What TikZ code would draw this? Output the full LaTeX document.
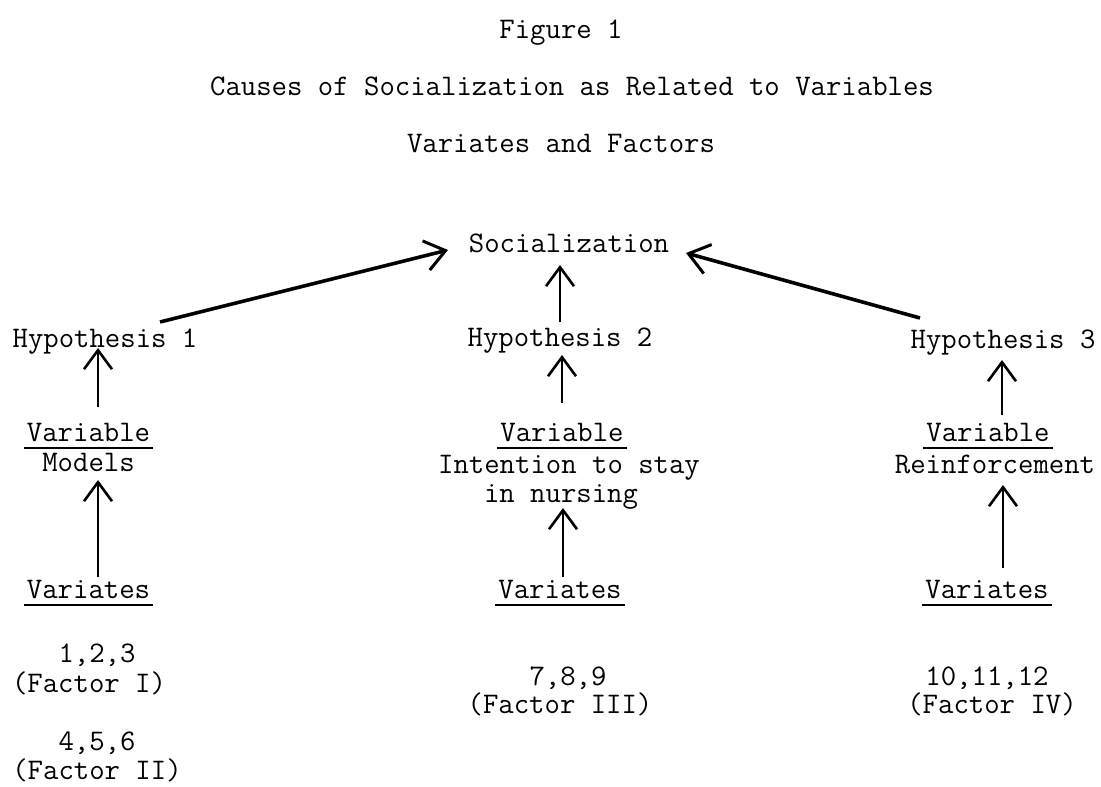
\documentclass[tikz,border=0pt]{standalone}
\usepackage{fontspec}
\usetikzlibrary{arrows.meta,calc}
\newcommand{\twfont}{\ttfamily\addfontfeature{FakeBold=1.6}\fontsize{29.9pt}{34pt}\selectfont}
\tikzset{
  txt/.style={inner sep=0pt, anchor=base, font=\twfont},
  arr/.style={line width=2.6pt, -{Straight Barb[length=19pt,width=28pt,line width=2.6pt]}},
  arrthick/.style={line width=3.6pt, -{Straight Barb[length=20pt,width=30pt,line width=3pt]}},
  uline/.style={line width=1.8pt}
}
\begin{document}
\begin{tikzpicture}[x=1pt,y=-1pt]
\useasboundingbox (0,0) rectangle (1101,787);
% titles
\node[txt] (t1) at (561,38) {Figure 1};
\node[txt] (t2) at (572,95) {Causes of Socialization as Related to Variables};
\node[txt] (t3) at (561,152) {Variates and Factors};
% top
\node[txt] (soc) at (569,252) {Socialization};
\node[txt] (hyp1) at (105,347) {Hypothesis 1};
\node[txt] (hyp2) at (560,346) {Hypothesis 2};
\node[txt] (hyp3) at (1003,348) {Hypothesis 3};
% variables
\node[txt] (var1) at (88.5,441) {Variable};
\node[txt] (var2) at (562,441) {Variable};
\node[txt] (var3) at (988,441) {Variable};
\node[txt] (mod) at (88.5,471) {Models};
\node[txt] (int) at (569,473) {Intention to stay};
\node[txt] (nurs) at (561,502) {in nursing};
\node[txt] (rein) at (995,473) {Reinforcement};
% variates
\node[txt] (vt1) at (88.5,598) {Variates};
\node[txt] (vt2) at (560,598) {Variates};
\node[txt] (vt3) at (987,598) {Variates};
\node[txt] (n1) at (97,662) {1,2,3};
\node[txt] (f1) at (89,692) {(Factor I)};
\node[txt] (n2) at (97,750) {4,5,6};
\node[txt] (f2) at (97,779) {(Factor II)};
\node[txt] (n3) at (568,685) {7,8,9};
\node[txt] (f3) at (560,713) {(Factor III)};
\node[txt] (n4) at (987,685) {10,11,12};
\node[txt] (f4) at (992,713) {(Factor IV)};
% underlines
\foreach \n in {var1,var2,var3,vt1,vt2,vt3}{
  \draw[uline] ($(\n.base west)+(-3,7)$) -- ($(\n.base east)+(3,7)$);
}
% arrows
\draw[arrthick] ($(hyp1.base)+(55,-25)$) -- ($(soc.base)+(-121,-2)$);
\draw[arrthick] ($(hyp3.base)+(-83,-30)$) -- ($(soc.base)+(117,1)$);
\draw[arr] ($(hyp2.base)+(0,-24)$) -- ($(soc.base)+(-9,13)$);
\draw[arr] ($(var1.base)+(9.5,-34)$) -- ($(hyp1.base)+(-7,1)$);
\draw[arr] ($(vt1.base)+(9.5,-21)$) -- ($(mod.base)+(9.5,9)$);
\draw[arr] ($(var2.base)+(0,-38)$) -- ($(hyp2.base)+(2,9)$);
\draw[arr] ($(vt2.base)+(3,-21)$) -- ($(nurs.base)+(2,6)$);
\draw[arr] ($(var3.base)+(14,-26)$) -- ($(hyp3.base)+(-1,12)$);
\draw[arr] ($(vt3.base)+(16,-30)$) -- ($(rein.base)+(8,12)$);
\end{tikzpicture}
\end{document}
